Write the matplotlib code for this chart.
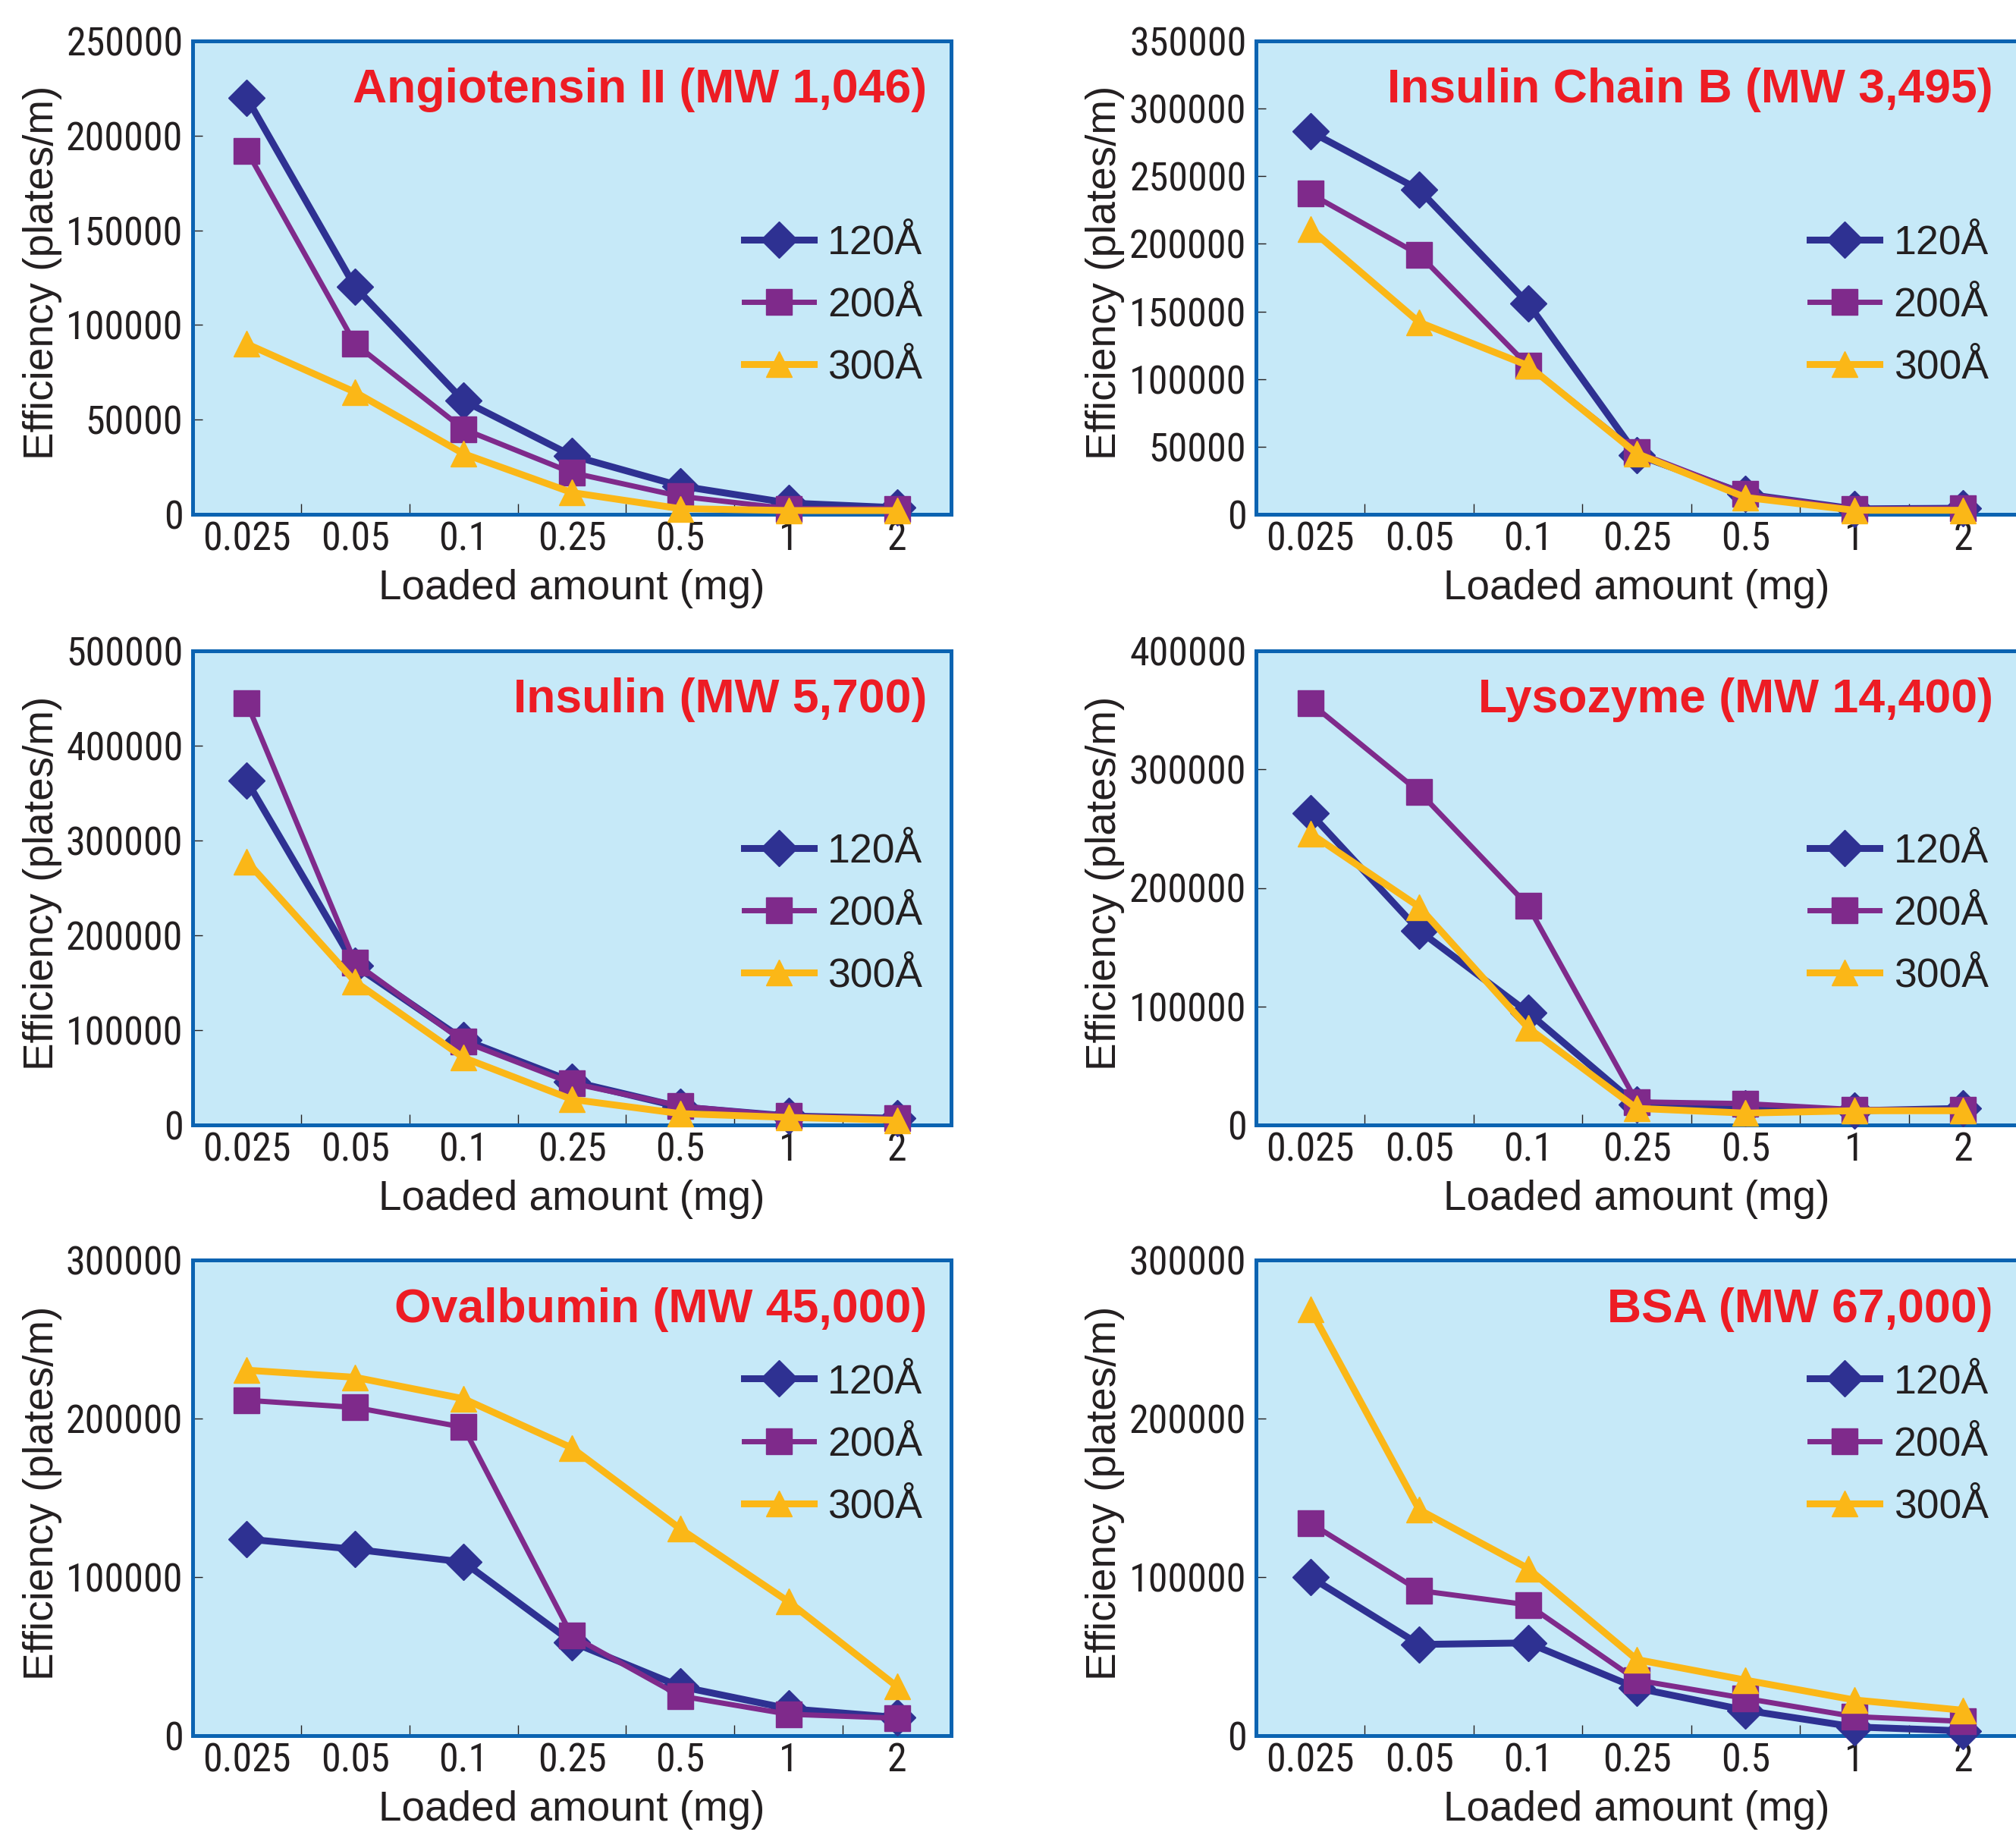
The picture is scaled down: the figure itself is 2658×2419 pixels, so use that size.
import numpy as np
import matplotlib
matplotlib.use('Agg')
import matplotlib.pyplot as plt
from matplotlib import ticker
from matplotlib import font_manager as fm

# loaded amounts (categorical x axis)
loads = ['0.025', '0.05', '0.1', '0.25', '0.5', '1', '2']
pores = ['120Å', '200Å', '300Å']

titles = ['Angiotensin II (MW 1,046)', 'Insulin Chain B (MW 3,495)',
          'Insulin (MW 5,700)', 'Lysozyme (MW 14,400)',
          'Ovalbumin (MW 45,000)', 'BSA (MW 67,000)']

# efficiency (plates/m)
angio_120 = [220000, 120000, 60000, 31000, 15000, 6000, 3500]
angio_200 = [192000, 90000, 45000, 22000, 9500, 3000, 3000]
angio_300 = [90000, 64500, 32000, 11500, 3000, 2000, 2000]

chainb_120 = [283000, 240000, 156000, 44000, 15000, 4000, 4500]
chainb_200 = [237000, 192000, 110000, 46000, 15000, 4000, 4500]
chainb_300 = [211000, 142000, 110000, 45000, 12500, 3000, 3000]

insulin_120 = [363000, 168000, 90000, 46000, 19000, 9500, 7000]
insulin_200 = [445000, 171000, 88000, 44000, 20000, 9500, 7000]
insulin_300 = [278000, 151000, 71000, 27000, 12000, 8000, 5000]

lyso_120 = [263000, 164000, 95000, 17000, 14000, 12000, 14000]
lyso_200 = [356000, 281000, 185000, 19500, 18000, 13000, 13000]
lyso_300 = [246000, 184000, 82000, 14000, 10000, 12000, 12000]

oval_120 = [124000, 117500, 109500, 59000, 31000, 17000, 11500]
oval_200 = [211500, 207000, 194500, 63000, 25000, 13500, 11000]
oval_300 = [230500, 226000, 212500, 181500, 130500, 84500, 31000]

bsa_120 = [100000, 57500, 58500, 30000, 16000, 5500, 3000]
bsa_200 = [134000, 91500, 82500, 35000, 23500, 12000, 9000]
bsa_300 = [269000, 142500, 105500, 48000, 35000, 22500, 16000]

panels = [
    (angio_120, angio_200, angio_300),
    (chainb_120, chainb_200, chainb_300),
    (insulin_120, insulin_200, insulin_300),
    (lyso_120, lyso_200, lyso_300),
    (oval_120, oval_200, oval_300),
    (bsa_120, bsa_200, bsa_300),
]
ymax = [250000, 350000, 500000, 400000, 300000, 300000]
ystep = [50000, 50000, 100000, 100000, 100000, 100000]

colors = ['#2e3192', '#7f2a8b', '#fbb717']
markers = ['D', 's', '^']
msizes = [24, 24, 24]
lwidths = [6.5, 5, 6.5]

bg = '#c6e9f8'
frame = '#0b63b1'
dark = '#231f20'
textfont = 'Liberation Sans'


# tick numbers are set in a condensed face; look for one that is installed
def find_narrow():
    prefs = ['Liberation Sans Narrow', 'Roboto Condensed', 'Noto Sans Condensed',
             'Open Sans Condensed', 'DejaVu Sans Condensed', 'Arial Narrow']
    good = []
    for f in fm.fontManager.ttflist:
        if f.style != 'normal' or f.weight not in (400, 'normal', 'regular'):
            continue
        fname = f.fname.lower()
        narrow = ('narrow' in fname or 'condensed' in fname or 'narrow' in f.name.lower()
                  or 'condensed' in f.name.lower() or f.stretch in ('condensed', 'semi-condensed', 400))
        if narrow and 'extra' not in fname and 'semi' not in fname and 'ultra' not in fname:
            good.append(f)
    for p in prefs:
        for f in good:
            if f.name == p or p.replace(' ', '').lower() in f.fname.replace('-', '').replace('_', '').lower():
                return fm.FontProperties(fname=f.fname)
    if good:
        return fm.FontProperties(fname=good[0].fname)
    return None


narrow_prop = find_narrow()
if narrow_prop is not None:
    tick_size = 37.5
else:
    narrow_prop = fm.FontProperties(family=textfont)
    tick_size = 30

fig = plt.figure(figsize=(26.58, 24.19), dpi=100)

W, H = 2658, 2419
lefts = [254, 1656]
widths = [1000, 1004]
tops = [54, 858, 1661]
bottoms = [678, 1483, 2288]
legend_y = [0.441, 0.445, 0.612]

for i in range(6):
    r, c = divmod(i, 2)
    ax = fig.add_axes([lefts[c] / W, 1 - bottoms[r] / H, widths[c] / W, (bottoms[r] - tops[r]) / H])
    ax.set_facecolor(bg)
    for s in ax.spines.values():
        s.set_color(frame)
        s.set_linewidth(3.6)
        s.set_zorder(2)

    x = np.arange(len(loads))
    for k in range(3):
        ax.plot(x, panels[i][k], color=colors[k], marker=markers[k], markersize=msizes[k],
                linewidth=lwidths[k], label=pores[k], clip_on=False, zorder=3 + k)

    ax.set_xlim(-0.5, 6.5)
    ax.set_ylim(0, ymax[i])
    ax.set_xticks(x)
    ax.set_xticklabels(loads)
    ax.xaxis.set_minor_locator(ticker.FixedLocator(np.arange(0.5, 6, 1)))
    ax.yaxis.set_major_locator(ticker.MultipleLocator(ystep[i]))
    ax.yaxis.set_major_formatter(ticker.FuncFormatter(lambda v, p: f'{int(v)}'))

    ax.tick_params(axis='x', which='major', length=0, pad=6, labelcolor=dark)
    ax.tick_params(axis='x', which='minor', direction='in', length=10, width=1, color=dark)
    ax.tick_params(axis='y', which='major', direction='in', length=9.5, width=1, color=dark,
                   pad=9, labelcolor=dark)
    for lab in ax.get_xticklabels() + ax.get_yticklabels():
        lab.set_fontproperties(narrow_prop)
        lab.set_fontsize(tick_size)

    ax.set_xlabel('Loaded amount (mg)', fontsize=39.5, fontfamily=textfont, color=dark)
    ax.set_ylabel('Efficiency (plates/m)', fontsize=39.5, fontfamily=textfont, color=dark)
    ax.xaxis.label.set_va('center')
    ax.yaxis.label.set_va('center')
    ax.xaxis.set_label_coords(0.5, -0.157)
    ax.yaxis.set_label_coords(-0.198, 0.51)

    ax.text(0.968, 0.870, titles[i], transform=ax.transAxes, ha='right', va='baseline',
            fontsize=45, fontweight='bold', fontfamily=textfont, color='#ed1c24', zorder=10)

    ax.legend(loc='center right', bbox_to_anchor=(0.962, legend_y[r]), frameon=False,
              borderpad=0, borderaxespad=0, handlelength=1.72, handletextpad=0.34,
              labelspacing=0.6, prop={'family': textfont, 'size': 38.5}, labelcolor=dark)

fig.savefig('out.png', dpi=100)
